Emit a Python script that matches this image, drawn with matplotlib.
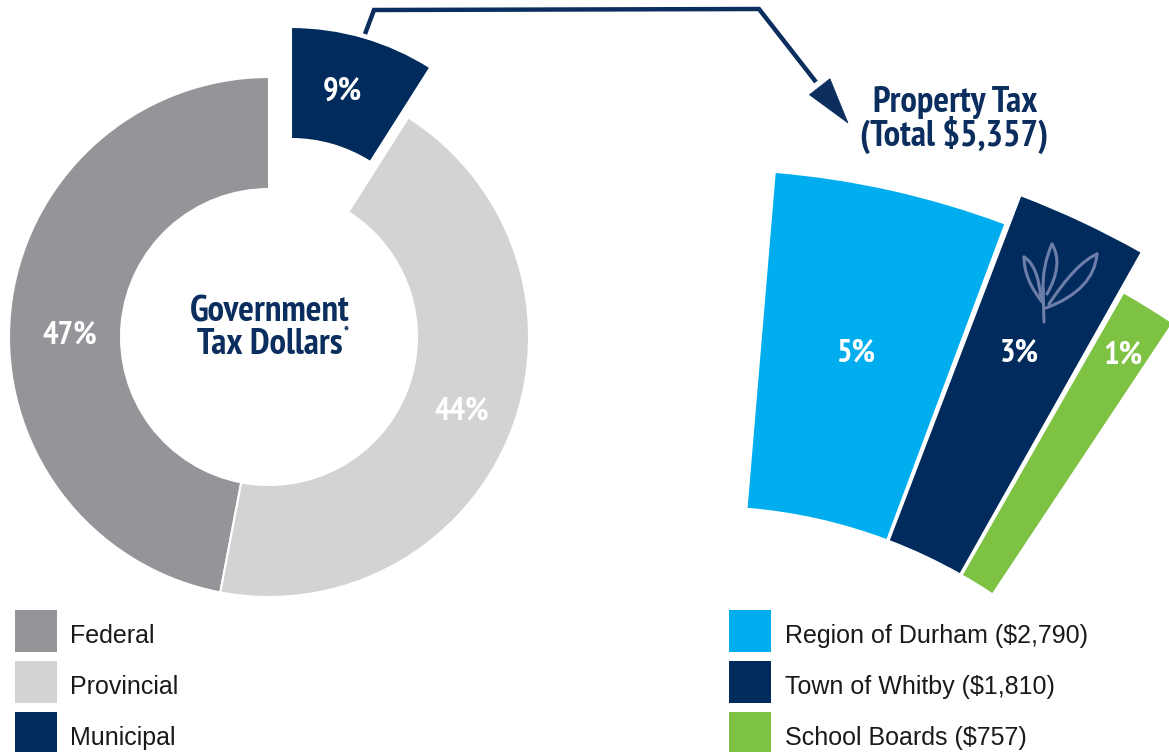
import matplotlib
matplotlib.use('Agg')
import matplotlib.pyplot as plt
from matplotlib.patches import Wedge, Rectangle, Polygon, PathPatch
from matplotlib.path import Path
import numpy as np

# ---------------- data ----------------
gov_labels = ['Federal', 'Provincial', 'Municipal']
gov_share = [47, 44, 9]
prop_labels = ['Region of Durham', 'Town of Whitby', 'School Boards']
prop_amount = [2790, 1810, 757]
prop_share = [5, 3, 1]
prop_total = 5357

# ---------------- style ----------------
gov_colors = ['#939598', '#D1D3D4', '#002B5C']
prop_colors = ['#00AEEF', '#002B5C', '#7DC242']
navy = '#0B2E5E'
NARROW = ['PT Sans Narrow', 'Roboto Condensed', 'Barlow Semi Condensed', 'DejaVu Sans']
SANS = ['Liberation Sans', 'DejaVu Sans']
LBL = 23.5    # percentage labels
HDR = 26.5    # headings

W, H = 1169, 752
fig = plt.figure(figsize=(W / 100, H / 100), dpi=100)
ax = fig.add_axes([0, 0, 1, 1])
ax.set_xlim(0, W)
ax.set_ylim(0, H)
ax.axis('off')


def P(x, y):
    """image pixel coords (y down) -> axes coords (y up)"""
    return (x, H - y)


# ---------------- government donut ----------------
cx, cy = P(269, 337)
R_out, R_in = 260, 148
explode_off = [(0, 0), (0, 0), (22, 50)]
start = 90.0
gov_label_pos = [P(70, 344), P(462, 419), P(342, 100)]
for i, (share, col) in enumerate(zip(gov_share, gov_colors)):
    t1 = start
    t2 = start + share * 3.6
    start = t2
    dx, dy = explode_off[i]
    ax.add_patch(Wedge((cx + dx, cy + dy), R_out, t1, t2, width=R_out - R_in,
                       facecolor=col, edgecolor='white', linewidth=1.5))
    ax.text(*gov_label_pos[i], f'{share}%', color='white', fontsize=LBL,
            fontweight='bold', family=NARROW, ha='center', va='baseline')

ax.text(*P(270, 321), 'Government', color=navy, fontsize=HDR,
        fontweight='bold', family=NARROW, ha='center', va='baseline')
ax.text(*P(343, 354), 'Tax Dollars', color=navy, fontsize=HDR,
        fontweight='bold', family=NARROW, ha='right', va='baseline')
ax.text(*P(344, 337), '*', color=navy, fontsize=11,
        fontweight='bold', family=NARROW, ha='left', va='baseline')

# ---------------- property tax sectors ----------------
pcx, pcy = P(704, 1027)
p_inner = 521
p_outer = [857, 889, 845]
deg_per_pct = 3.0
widen = [0.7, -0.5, 0.8]
gap = 0.4
ang = 85.2
prop_label_pos = [P(856, 361), P(1019, 361), P(1123, 363)]
for i, (share, col) in enumerate(zip(prop_share, prop_colors)):
    t2 = ang
    t1 = ang - (share * deg_per_pct + widen[i])
    ang = t1 - gap
    ax.add_patch(Wedge((pcx, pcy), p_outer[i], t1, t2, width=p_outer[i] - p_inner,
                       facecolor=col, edgecolor='none'))
    ax.text(*prop_label_pos[i], f'{share}%', color='white', fontsize=LBL,
            fontweight='bold', family=NARROW, ha='center', va='baseline')

ax.text(*P(955, 112), 'Property Tax', color=navy, fontsize=HDR,
        fontweight='bold', family=NARROW, ha='center', va='baseline')
ax.text(*P(954, 146), f'(Total ${prop_total:,})', color=navy, fontsize=HDR,
        fontweight='bold', family=NARROW, ha='center', va='baseline')

# Whitby logo (decorative strokes)
logo_col = '#6E7EA9'
C3 = Path.CURVE3
leaves = [
    [(1024, 257), (1038, 265), (1041, 299)],
    [(1024, 257), (1024, 280), (1043, 303)],
    [(1052, 244), (1064, 264), (1047, 294)],
    [(1052, 244), (1042, 266), (1043, 292)],
    [(1097, 254), (1076, 263), (1049, 304)],
    [(1097, 254), (1094, 290), (1046, 308)],
]
for a, b, c in leaves:
    path = Path([P(*a), P(*b), P(*c)], [Path.MOVETO, C3, C3])
    ax.add_patch(PathPatch(path, facecolor='none', edgecolor=logo_col, lw=2.2,
                           capstyle='round'))
ax.plot(*zip(P(1043, 288), P(1044, 322)), color=logo_col, lw=2.2,
        solid_capstyle='round')

# ---------------- arrow ----------------
tip = np.array(P(848, 123))
corner = np.array(P(759, 9))
u = (corner - tip) / np.linalg.norm(corner - tip)
bc = tip + 46 * u
arrow_pts = [P(365, 34), P(374, 10), tuple(corner), tuple(bc + 6 * u)]
xs, ys = zip(*arrow_pts)
ax.plot(xs, ys, color=navy, lw=3.2, solid_joinstyle='miter', solid_capstyle='butt')
perp = np.array([-u[1], u[0]])
ax.add_patch(Polygon([tip, bc + 13 * perp, bc - 13 * perp], closed=True,
                     facecolor=navy, edgecolor=navy, lw=0.5))

# ---------------- legends ----------------
sq = 42
for i, (lab, col) in enumerate(zip(gov_labels, gov_colors)):
    top = 610 + i * 51
    x0, y0 = P(15, top + sq)
    ax.add_patch(Rectangle((x0, y0), sq, sq, facecolor=col, edgecolor='none'))
    ax.text(*P(70, top + 33), lab, color='#1a1a1a', fontsize=18,
            family=SANS, ha='left', va='baseline')

for i, (lab, amt, col) in enumerate(zip(prop_labels, prop_amount, prop_colors)):
    top = 610 + i * 51
    x0, y0 = P(729, top + sq)
    ax.add_patch(Rectangle((x0, y0), sq, sq, facecolor=col, edgecolor='none'))
    ax.text(*P(785, top + 33), f'{lab} (${amt:,})', color='#1a1a1a', fontsize=18,
            family=SANS, ha='left', va='baseline')

fig.savefig('out.png', dpi=100, facecolor='white')
